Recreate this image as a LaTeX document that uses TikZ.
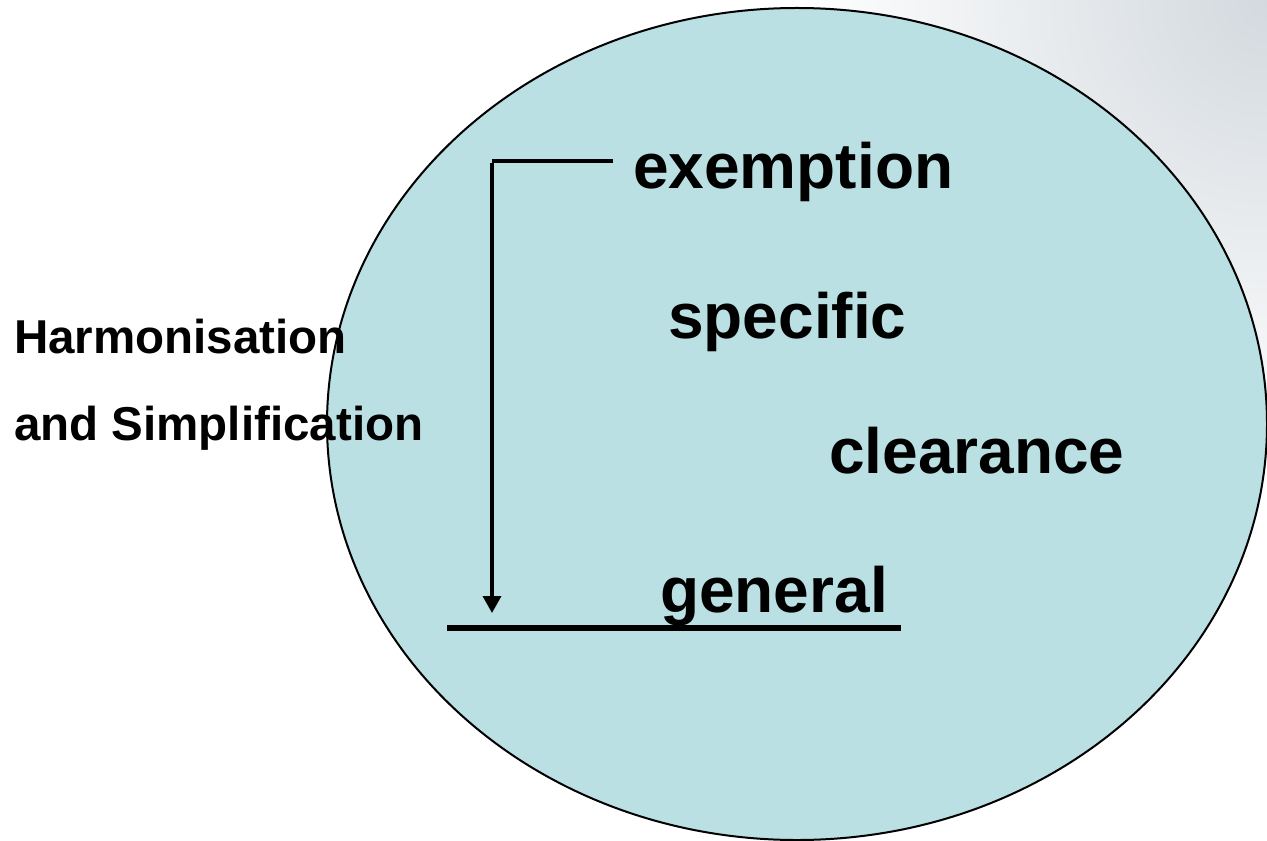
\documentclass[tikz,border=0pt]{standalone}
\usepackage{fontspec}
\setmainfont{Liberation Sans}
\usetikzlibrary{shapes.geometric,arrows.meta}
\definecolor{ellfill}{HTML}{BAE0E3}
\definecolor{cornergray}{HTML}{D3D9DE}
\tikzset{
  big/.style={font=\fontsize{64bp}{70bp}\selectfont\bfseries, inner sep=0pt, anchor=base west},
  side/.style={font=\fontsize{47.5bp}{52bp}\selectfont\bfseries, inner sep=0pt, anchor=base west},
  bar/.style={line width=4.5bp},
}
\begin{document}
\begin{tikzpicture}[x=1bp,y=-1bp]
\useasboundingbox (0,0) rectangle (1267,841);
\begin{scope}
\clip (0,0) rectangle (1267,841);
\fill[white] (0,0) rectangle (1267,841);
\shade[inner color=cornergray, outer color=white] (1267,0) circle (470);
\end{scope}
\node[draw=black, line width=2bp, fill=ellfill, ellipse, minimum width=940bp, minimum height=832bp, inner sep=0pt] (ell) at (797,424) {};
\node[big] (exemption) at (633,188) {exemption};
\node[big] (specific) at (668,338) {specific};
\node[big] (clearance) at (829,473) {clearance};
\node[big] (general) at (660,612) {general};
\node[side] (harm) at (14,353) {Harmonisation};
\node[side] (simp) at (14,440) {and Simplification};
\coordinate (tr) at (613,161);
\coordinate (tl) at (492,161);
\coordinate (tip) at (492,613);
\coordinate (ul) at (447,628);
\coordinate (ur) at (901,628);
\draw[bar] (tr) -- (tl);
\draw[line width=3.5bp, -{Triangle[width=18bp,length=17bp]}] ([yshift=-1.75bp]tl) -- (tip);
\draw[bar, line width=5.5bp] (ul) -- (ur);
\end{tikzpicture}
\end{document}
